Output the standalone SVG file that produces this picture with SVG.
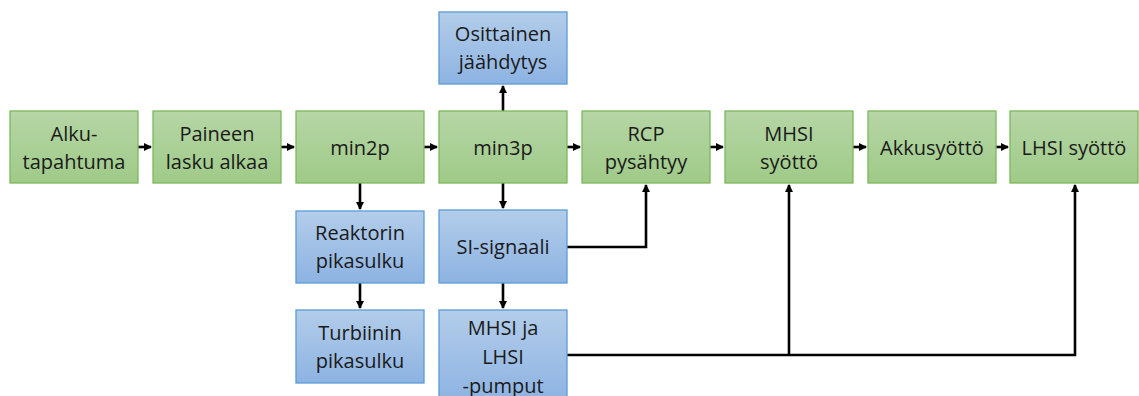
<svg xmlns="http://www.w3.org/2000/svg" width="1139" height="396" viewBox="0 0 1139 396">
<defs>
<linearGradient id="gg" x1="0" y1="0" x2="0" y2="1"><stop offset="0" stop-color="#b6d6a6"/><stop offset="1" stop-color="#9fca88"/></linearGradient>
<linearGradient id="bg" x1="0" y1="0" x2="0" y2="1"><stop offset="0" stop-color="#b3cdea"/><stop offset="1" stop-color="#8db3e2"/></linearGradient>
<marker id="ah" markerWidth="8" markerHeight="8" refX="7" refY="4" orient="auto" markerUnits="userSpaceOnUse"><path d="M0,0 L8,4 L0,8 Z" fill="#000"/></marker>
<style>
.g{fill:url(#gg);stroke:#7cb95a;stroke-width:1.3}
.b{fill:url(#bg);stroke:#5b9bd5;stroke-width:1.3}
text{font-family:"Open Sans","Noto Sans",sans-serif;font-size:20px;fill:#1a1a1a;text-anchor:middle}
.c{fill:none;stroke:#000;stroke-width:2.6}
</style>
</defs>
<rect width="1139" height="396" fill="#fff"/>
<g id="connectors">
<path class="c" d="M138,147 H151" marker-end="url(#ah)"/>
<path class="c" d="M281,147 H294" marker-end="url(#ah)"/>
<path class="c" d="M424,147 H437" marker-end="url(#ah)"/>
<path class="c" d="M567,147 H580" marker-end="url(#ah)"/>
<path class="c" d="M710,147 H723" marker-end="url(#ah)"/>
<path class="c" d="M853,147 H866" marker-end="url(#ah)"/>
<path class="c" d="M996,147 H1008" marker-end="url(#ah)"/>
<path class="c" d="M503,111 V86" marker-end="url(#ah)"/>
<path class="c" d="M360,183 V209" marker-end="url(#ah)"/>
<path class="c" d="M360,283 V308" marker-end="url(#ah)"/>
<path class="c" d="M503,183 V208" marker-end="url(#ah)"/>
<path class="c" d="M503,283 V308" marker-end="url(#ah)"/>
<path class="c" d="M567,247 H646 V185" marker-end="url(#ah)"/>
<path class="c" d="M567,355 H1075 V185" marker-end="url(#ah)"/>
<path class="c" d="M789,355 V185" marker-end="url(#ah)"/>
</g>
<g id="n1"><rect class="g" x="10" y="111" width="128" height="72"/><text x="74" y="141">Alku-</text><text x="74" y="169">tapahtuma</text></g>
<g id="n2"><rect class="g" x="153" y="111" width="128" height="72"/><text x="217" y="141">Paineen</text><text x="217" y="169">lasku alkaa</text></g>
<g id="n3"><rect class="g" x="296" y="111" width="128" height="72"/><text x="360" y="155">min2p</text></g>
<g id="n4"><rect class="g" x="439" y="111" width="128" height="72"/><text x="503" y="155">min3p</text></g>
<g id="n5"><rect class="g" x="582" y="111" width="128" height="72"/><text x="646" y="141">RCP</text><text x="646" y="169">pysähtyy</text></g>
<g id="n6"><rect class="g" x="725" y="111" width="128" height="72"/><text x="789" y="141">MHSI</text><text x="789" y="169">syöttö</text></g>
<g id="n7"><rect class="g" x="868" y="111" width="128" height="72"/><text x="932" y="155">Akkusyöttö</text></g>
<g id="n8"><rect class="g" x="1010" y="111" width="128" height="72"/><text x="1074" y="155">LHSI syöttö</text></g>
<g id="n9"><rect class="b" x="439" y="12" width="128" height="72"/><text x="503" y="41">Osittainen</text><text x="503" y="69">jäähdytys</text></g>
<g id="n10"><rect class="b" x="296" y="211" width="128" height="72"/><text x="360" y="240">Reaktorin</text><text x="360" y="268">pikasulku</text></g>
<g id="n11"><rect class="b" x="296" y="310" width="128" height="73"/><text x="360" y="340">Turbiinin</text><text x="360" y="368">pikasulku</text></g>
<g id="n12"><rect class="b" x="439" y="210" width="128" height="73"/><text x="503" y="254">SI-signaali</text></g>
<g id="n13"><rect class="b" x="439" y="310" width="128" height="92"/><text x="503" y="335">MHSI ja</text><text x="503" y="364">LHSI</text><text x="503" y="393">-pumput</text></g>
</svg>
